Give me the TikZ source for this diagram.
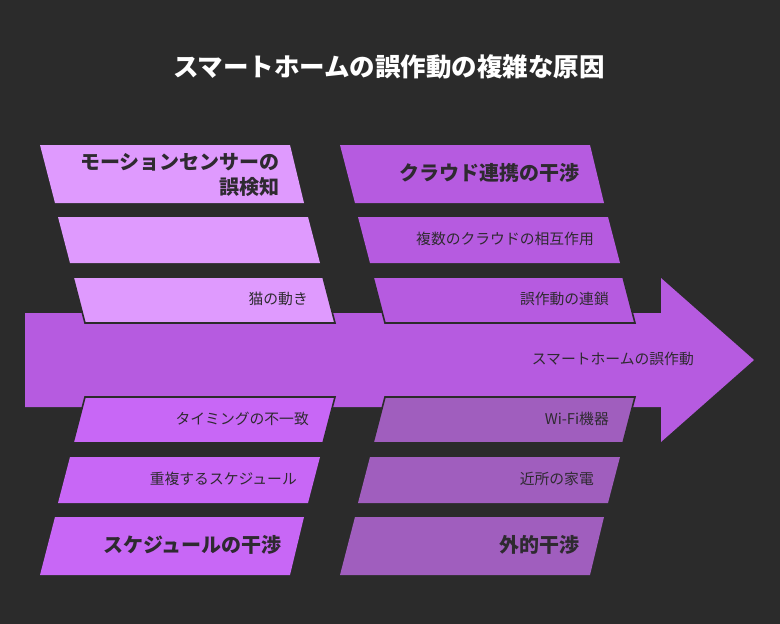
\documentclass[tikz,border=0pt]{standalone}
\usepackage{fontspec}
\setmainfont{Noto Sans CJK JP}
\definecolor{bg}{HTML}{2B2B2B}
\definecolor{txt}{HTML}{2E2A30}
\definecolor{cTL}{HTML}{DF9AFE}
\definecolor{cTR}{HTML}{B65BE0}
\definecolor{cBL}{HTML}{C867F6}
\definecolor{cBR}{HTML}{A05EBE}
\definecolor{cArrow}{HTML}{B65BE0}
\tikzset{
  box/.style={draw=bg, line width=1.6pt, line join=miter},
  head/.style={anchor=east, inner sep=0pt, text=txt, font=\fontsize{20}{25}\selectfont\bfseries, align=right},
  item/.style={anchor=east, inner sep=0pt, text=txt, font=\fontsize{14.8}{17}\selectfont},
}
\begin{document}
\begin{tikzpicture}[x=1pt,y=-1pt]
\fill[bg] (0,0) rectangle (780,624);
\useasboundingbox (0,0) rectangle (780,624);
% title
\node[inner sep=0pt, text=white, font=\fontsize{25.5}{28}\selectfont\bfseries] (title) at (389,67) {スマートホームの誤作動の複雑な原因};
% main arrow
\fill[cArrow] (25,313) -- (661,313) -- (661,278) -- (754,360) -- (661,442) -- (661,407) -- (25,407) -- cycle;
% top-left boxes
\fill[cTL] (40,145) -- (290,145) -- (304,203) -- (55,203) -- cycle;
\fill[cTL] (58,217) -- (308,217) -- (320,263) -- (70,263) -- cycle;
\filldraw[cTL, box] (73,277) -- (323,277) -- (335,323) -- (85,323) -- cycle;
% top-right boxes
\fill[cTR] (340,145) -- (590,145) -- (604,203) -- (355,203) -- cycle;
\fill[cTR] (358,217) -- (608,217) -- (620,263) -- (370,263) -- cycle;
\filldraw[cTR, box] (373,277) -- (623,277) -- (635,323) -- (385,323) -- cycle;
% bottom-left boxes
\filldraw[cBL, box] (85,397) -- (335,397) -- (323,443) -- (73,443) -- cycle;
\fill[cBL] (70,457) -- (320,457) -- (308,503) -- (58,503) -- cycle;
\fill[cBL] (55,517) -- (304,517) -- (290,575) -- (40,575) -- cycle;
% bottom-right boxes
\filldraw[cBR, box] (385,397) -- (635,397) -- (623,443) -- (373,443) -- cycle;
\fill[cBR] (370,457) -- (620,457) -- (608,503) -- (358,503) -- cycle;
\fill[cBR] (355,517) -- (604,517) -- (590,575) -- (340,575) -- cycle;
% texts
\node[head] (motion) at (280,174.5) {モーションセンサーの\\誤検知};
\node[item] (cat) at (308,299) {猫の動き};
\node[head] (cloud) at (580,173) {クラウド連携の干渉};
\node[item] (multi) at (594,239) {複数のクラウドの相互作用};
\node[item] (chain) at (609,299) {誤作動の連鎖};
\node[item] (main) at (694,359) {スマートホームの誤作動};
\node[item] (timing) at (309,419) {タイミングの不一致};
\node[item] (overlap) at (297,479) {重複するスケジュール};
\node[head] (sched) at (282,545) {スケジュールの干渉};
\node[item] (wifi) at (609,419) {Wi-Fi機器};
\node[item] (near) at (594,479) {近所の家電};
\node[head] (ext) at (580,545) {外的干渉};
\end{tikzpicture}
\end{document}
